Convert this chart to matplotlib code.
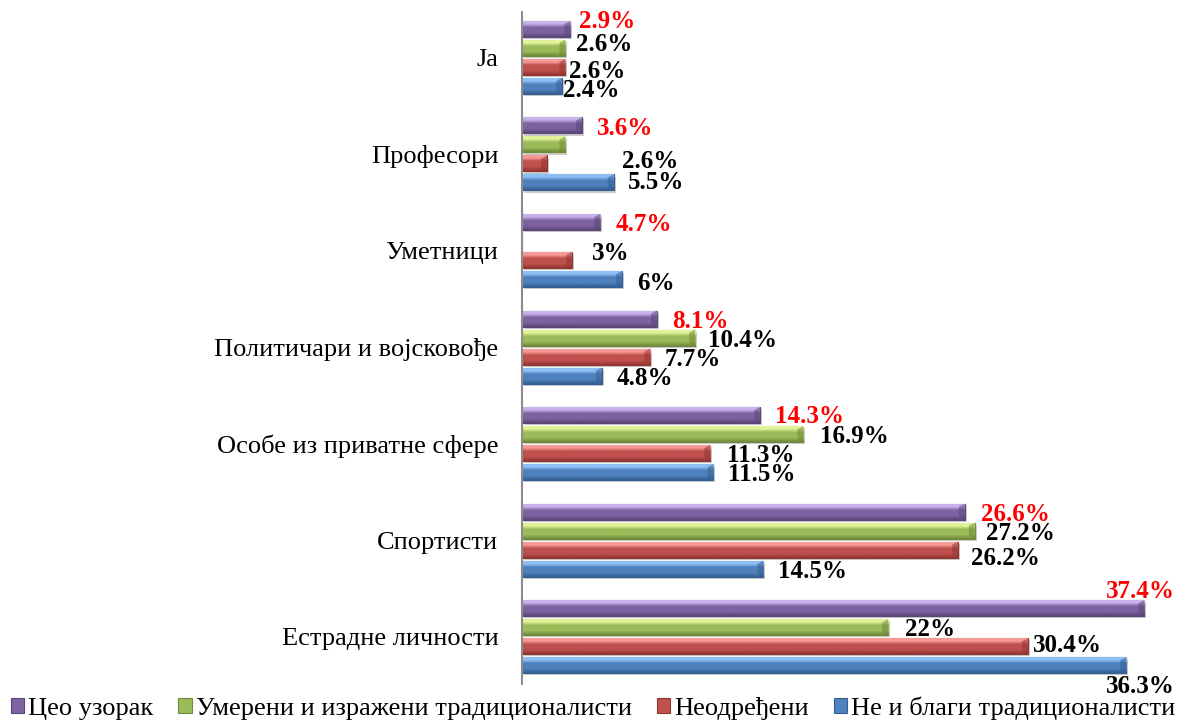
import numpy as np
import matplotlib
matplotlib.use("Agg")
import matplotlib.pyplot as plt
from matplotlib.colors import LinearSegmentedColormap, to_rgb
from matplotlib.patches import Patch
from matplotlib import patheffects as pe

plt.rcParams["font.family"] = ["Liberation Serif", "DejaVu Serif"]

# ---- data (percent) ----
categories = ["Ја", "Професори", "Уметници", "Политичари и војсковође",
              "Особе из приватне сфере", "Спортисти", "Естрадне личности"]
series_names = ["Цео узорак", "Умерени и изражени традиционалисти",
                "Неодређени", "Не и благи традиционалисти"]
whole_sample = [2.9, 3.6, 4.7, 8.1, 14.3, 26.6, 37.4]
moderate_strong = [2.6, 2.6, 0.0, 10.4, 16.9, 27.2, 22.0]
undecided = [2.6, 1.5, 3.0, 7.7, 11.3, 26.2, 30.4]
none_mild = [2.4, 5.5, 6.0, 4.8, 11.5, 14.5, 36.3]

# which values carry a data label
show_whole = [True] * 7
show_moderate = [True, True, False, True, True, True, True]
show_undecided = [True, False, True, True, True, True, True]
show_mild = [True] * 7

# ---- styling ----
base_colors = ["#7e62a1", "#9bbb59", "#c0504d", "#4f81bd"]
light_colors = ["#c9b2ea", "#e2f29a", "#f59a97", "#8fc0f5"]
dark_colors = ["#5b4679", "#718a3c", "#923634", "#355f93"]
label_colors = ["#ff0000", "black", "black", "black"]

# label offsets in pixels (dx to the right of bar end, dy downward)
off_whole = [(9, -10), (15, 1), (15, 0), (15, 0), (15, -1), (16, 0), (-38, -19)]
off_moderate = [(11, -6), (57, 15), (0, 0), (13, 0), (17, 0), (11, 0), (17, 0)]
off_undecided = [(4, 2), (0, 0), (20, -9), (14, 0), (17, 0), (13, 6), (5, -3)]
off_mild = [(1, 2), (14, -2), (15, 2), (15, 0), (15, 0), (15, 0), (-20, 19)]

W, H = 1185, 724
fig = plt.figure(figsize=(W / 100, H / 100), dpi=100)
ax = fig.add_axes([522 / W, 1 - 684 / H, (1171 - 522) / W, (684 - 12) / H])

group_pos = np.arange(len(categories))
bar_h = 16 / 96.5
step = 19 / 96.5
series = [whole_sample, moderate_strong, undecided, none_mild]
shows = [show_whole, show_moderate, show_undecided, show_mild]
offsets = [off_whole, off_moderate, off_undecided, off_mild]

shadow = [pe.SimplePatchShadow(offset=(1.5, -1.5), shadow_rgbFace="#808080", alpha=0.4),
          pe.Normal()]

for k, vals in enumerate(series):
    ypos = group_pos + (k - 1.5) * step
    cmap = LinearSegmentedColormap.from_list(
        f"bevel{k}",
        [(0.0, to_rgb(light_colors[k])), (0.22, to_rgb(light_colors[k])),
         (0.42, to_rgb(base_colors[k])), (0.75, to_rgb(base_colors[k])),
         (1.0, to_rgb(dark_colors[k]))])
    bars = ax.barh(ypos, vals, height=bar_h, color=base_colors[k],
                   edgecolor=dark_colors[k], linewidth=0.8, zorder=2)
    grad = np.linspace(0, 1, 32).reshape(-1, 1)
    for patch in bars:
        patch.set_path_effects(shadow)
        w = patch.get_width()
        if w <= 0:
            continue
        x0, y0 = patch.get_xy()
        hh = patch.get_height()
        im = ax.imshow(grad, extent=(x0, x0 + w, y0 + hh, y0), aspect="auto",
                       cmap=cmap, interpolation="bilinear", zorder=2.5)
        im.set_clip_path(patch)
        # darker bevel at the bar end
        ax.fill([x0 + w - 0.35, x0 + w, x0 + w, x0 + w - 0.35],
                [y0 + hh * 0.2, y0, y0 + hh, y0 + hh * 0.85],
                color=dark_colors[k], alpha=0.55, lw=0, zorder=2.6)
    for i, v in enumerate(vals):
        if not shows[k][i]:
            continue
        dx, dy = offsets[k][i]
        ax.annotate(f"{v:g}%", xy=(v, ypos[i]), xytext=(dx * 0.72, -dy * 0.72),
                    textcoords="offset points", ha="left", va="center_baseline",
                    fontsize=18, fontweight="bold", color=label_colors[k],
                    zorder=4, annotation_clip=False)

ax.set_xlim(0, 39)
ax.set_ylim(6.49, -0.47)
ax.set_yticks(group_pos)
ax.set_yticklabels(categories, fontsize=19)
ax.tick_params(axis="y", length=0, pad=17)
ax.set_xticks([])
for side in ["top", "right", "bottom"]:
    ax.spines[side].set_visible(False)
ax.spines["left"].set_color("#8c8c8c")
ax.spines["left"].set_linewidth(1.5)

handles = [Patch(facecolor=base_colors[k], edgecolor=dark_colors[k], linewidth=0.8)
           for k in range(4)]
fig.legend(handles, series_names, loc="center left", bbox_to_anchor=(11 / W, 1 - 708 / H),
           ncol=4, frameon=False, fontsize=19, handlelength=0.5, handleheight=0.5,
           handletextpad=0.15, columnspacing=0.95, borderpad=0, borderaxespad=0)

fig.savefig("out.png", dpi=100, facecolor="white")
